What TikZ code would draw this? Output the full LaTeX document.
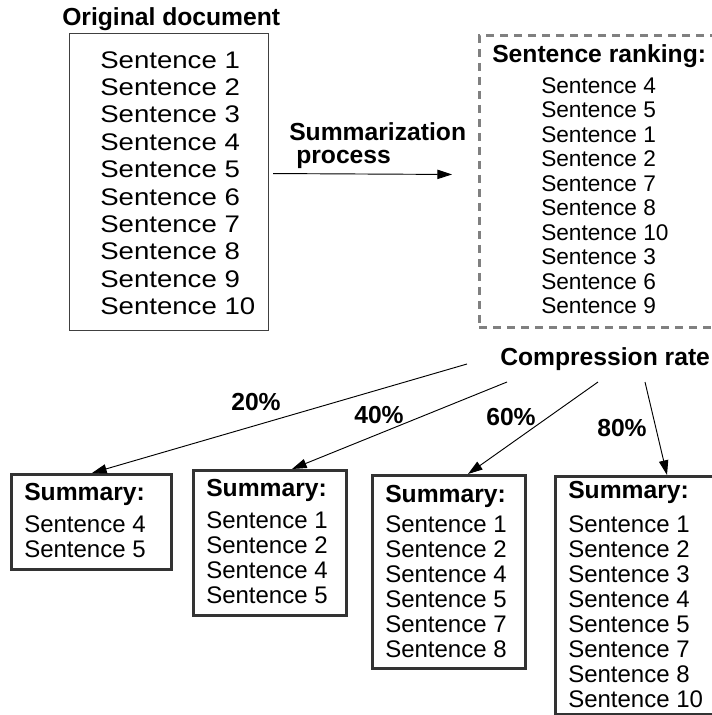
\documentclass[tikz,border=0pt]{standalone}
\usepackage{fontspec}
\setmainfont{Liberation Sans}
\usetikzlibrary{arrows.meta}
\usetikzlibrary{calc}

\newcommand{\stretched}[1]{\scalebox{1.15}[1]{#1}}

\begin{document}
\begin{tikzpicture}[x=0.75pt, y=-0.75pt,
  heading/.style={font=\fontsize{18.5}{20}\selectfont\bfseries, inner sep=0pt},
  line/.style={font=\fontsize{18}{20}\selectfont, anchor=base west, inner sep=0pt},
  rankline/.style={font=\fontsize{17}{20}\selectfont, anchor=base west, inner sep=0pt},
  sumbox/.style={draw=black!80, line width=2.3pt, anchor=north west, inner sep=0pt},
  ptr/.style={line width=0.7pt, arrows={-Triangle[length=11pt, width=7pt]}}]
\useasboundingbox (0,0) rectangle (712,715);

% original document
\node[heading, anchor=base west] (origtitle) at (62,25) {Original document};
\node[draw=black!75, line width=0.8pt, anchor=north west, inner sep=0pt,
      minimum width=149.25pt, minimum height=222.75pt] (orig) at (69,33) {};
\foreach \n [count=\i from 0] in {1,...,10}
  \node[line] (orig-\n) at (100,{68+27.4*\i}) {\stretched{Sentence \n}};

% ranking
\node[draw=black!50, dash pattern=on 6pt off 4.5pt, line width=2.2pt, anchor=north west,
      inner sep=0pt, minimum width=190pt, minimum height=219pt] (rank) at (478,34) {};
\node[heading, anchor=base west] (ranktitle) at (492,62) {Sentence ranking:};
\foreach \n [count=\i from 0] in {4,5,1,2,7,8,10,3,6,9}
  \node[rankline] (rank-\n) at (541,{93+24.5*\i}) {Sentence \n};

\node[heading, anchor=base west] (proc1) at (289,140) {Summarization};
\node[heading, anchor=base west] (proc2) at (296,163) {process};
\draw[ptr] ($(orig.east)+(4,-8.5)$) -- ($(rank.west)+(-26,-7)$);

% compression rates
\node[heading, anchor=base west] (rate) at (500,365) {Compression rate};
\coordinate (c20) at (467,364);
\coordinate (c40) at (507,382);
\coordinate (c60) at (598,382);
\coordinate (c80) at (645,382);

% summaries
\node[sumbox, minimum width=120pt, minimum height=71.25pt] (sumA) at (10,473) {};
\node[heading, anchor=base west] (sumA-title) at (24,500) {Summary:};
\foreach \n [count=\i from 0] in {4,5}
  \node[line] (sumA-\n) at (24,{532+25*\i}) {Sentence \n};

\node[sumbox, minimum width=114.75pt, minimum height=108.75pt] (sumB) at (192,469) {};
\node[heading, anchor=base west] (sumB-title) at (206,496) {Summary:};
\foreach \n [count=\i from 0] in {1,2,4,5}
  \node[line] (sumB-\n) at (206,{528+25*\i}) {Sentence \n};

\node[sumbox, minimum width=114.75pt, minimum height=144.75pt] (sumC) at (371,474) {};
\node[heading, anchor=base west] (sumC-title) at (385,502) {Summary:};
\foreach \n [count=\i from 0] in {1,2,4,5,7,8}
  \node[line] (sumC-\n) at (385,{532+25*\i}) {Sentence \n};

\node[sumbox, minimum width=140pt, minimum height=178.5pt] (sumD) at (554,475) {};
\node[heading, anchor=base west] (sumD-title) at (568,498) {Summary:};
\foreach \n [count=\i from 0] in {1,2,3,4,5,7,8,10}
  \node[line] (sumD-\n) at (568,{532+25*\i}) {Sentence \n};

\draw[ptr] (c20) -- ($(sumA.north west)+(82,0)$);
\draw[ptr] (c40) -- ($(sumB.north west)+(100,0)$);
\draw[ptr] (c60) -- ($(sumC.north west)+(97,0)$);
\draw[ptr] (c80) -- ($(sumD.north west)+(113,0)$);
\node[heading, anchor=base] (p20) at (256,410) {20\%};
\node[heading, anchor=base] (p40) at (379,423) {40\%};
\node[heading, anchor=base] (p60) at (511,425) {60\%};
\node[heading, anchor=base] (p80) at (622,436) {80\%};
\end{tikzpicture}
\end{document}
